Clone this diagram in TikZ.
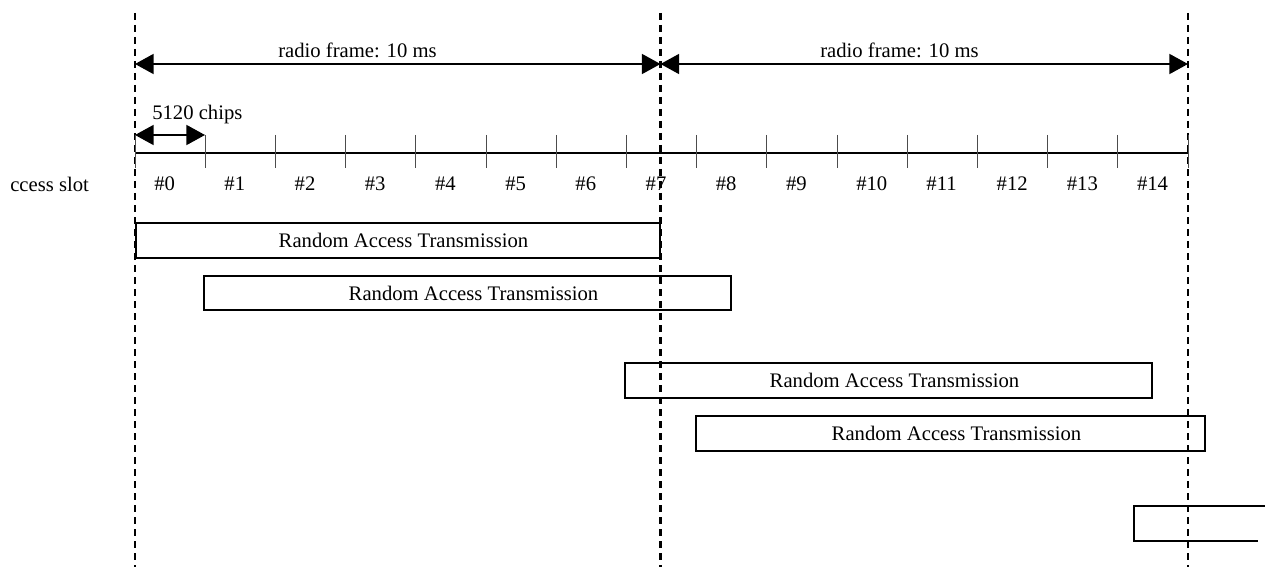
\documentclass[tikz,border=0pt]{standalone}
\usepackage{fontspec}
\setmainfont{Liberation Serif}
\usetikzlibrary{arrows.meta}
\begin{document}
\begin{tikzpicture}[x=0.75pt,y=-0.75pt,
  txt/.style={font=\fontsize{15.5}{18}\selectfont, inner sep=0pt},
  framesep/.style={line width=1.8pt, dash pattern=on 5.4pt off 3.6pt},
  dimarrow/.style={line width=1.4pt, {Triangle[length=14pt,width=15pt]}-{Triangle[length=14pt,width=15pt]}},
  axis/.style={line width=1.4pt},
  tick/.style={line width=0.7pt, black!70},
  rabox/.style={txt, draw, line width=1.5pt, minimum height=26pt, align=center}
]
\useasboundingbox (0,0) rectangle (1265,567);

% frame boundaries
\coordinate (f0t) at (135,13);  \coordinate (f0b) at (135,567);
\coordinate (f1t) at (660.5,13); \coordinate (f1b) at (660.5,567);
\coordinate (f2t) at (1188,13); \coordinate (f2b) at (1188,567);
\draw[framesep] (f0t) -- (f0b);
\draw[framesep] (f1t) -- (f1b);
\draw[framesep] (f2t) -- (f2b);

% radio frame arrows
\coordinate (a0) at (135,64);
\coordinate (a1) at (660.5,64);
\coordinate (a2) at (1188,64);
\draw[dimarrow] (a0) -- (a1);
\draw[dimarrow] (a1) -- (a2);
\node[txt, anchor=west] (rf1) at (278,50) {radio frame: 10 ms};
\node[txt, anchor=west] (rf2) at (820,50) {radio frame: 10 ms};

% chips arrow
\coordinate (c0) at (135,135);
\coordinate (c1) at (205,135);
\draw[dimarrow] (c0) -- (c1);
\node[txt, anchor=west] (chips) at (152,115) {5120 chips};

% slot axis
\coordinate (t0) at (135,153);
\coordinate (t1) at (1188,153);
\draw[axis] (t0) -- (t1);
\foreach \k in {0,...,15}{
  \draw[tick] ({135+70.2*\k},135) -- ({135+70.2*\k},168);
}
\foreach \k in {0,...,14}{
  \node[txt, anchor=west] (s\k) at ({135+70.2*\k+19},184) {\#\k};
}
\node[txt, anchor=west] (lbl) at (10,184) {ccess slot};

% random access transmissions
\node[rabox, minimum width=393pt] (r1) at (397.5,240.5) {\hspace*{9pt}Random Access Transmission};
\node[rabox, minimum width=395pt] (r2) at (467.5,293) {\hspace*{9pt}Random Access Transmission};
\node[rabox, minimum width=395pt] (r3) at (888.5,380.5) {\hspace*{9pt}Random Access Transmission};
\node[rabox, minimum width=381.5pt] (r4) at (950.5,433.5) {\hspace*{9pt}Random Access Transmission};

% truncated last transmission
\coordinate (r5a) at (1265,506);
\coordinate (r5b) at (1134,506);
\coordinate (r5c) at (1134,541);
\coordinate (r5d) at (1258,541);
\draw[line width=1.5pt] (r5a) -- (r5b) -- (r5c) -- (r5d);
\end{tikzpicture}
\end{document}
